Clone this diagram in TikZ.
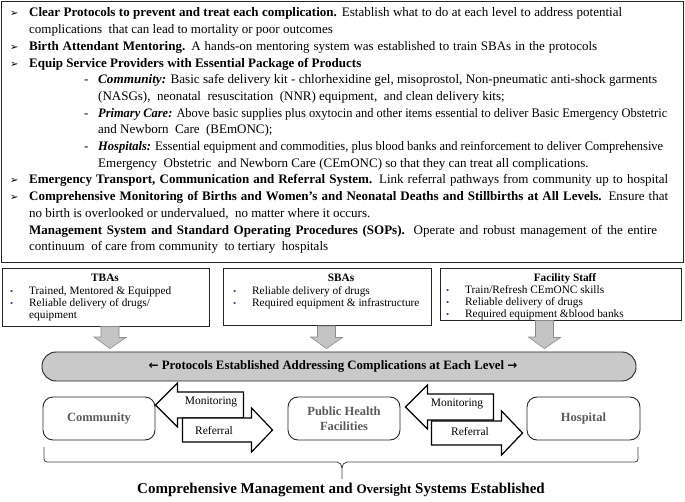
\documentclass[tikz,border=0pt]{standalone}
\usepackage{graphicx}
\usepackage{fontspec}
\setmainfont{Liberation Serif}
\newfontfamily\dejavu{DejaVu Sans}
\definecolor{bulblue}{HTML}{2E4A8C}
\definecolor{bannergray}{HTML}{C9C9C9}
\definecolor{arrgray}{HTML}{C4C4C4}
\definecolor{arredge}{HTML}{8A8A8A}
\definecolor{lbl}{HTML}{5A5A5A}
\newcommand\tbul{\makebox[19pt][l]{\dejavu\fontsize{10}{10}\selectfont ➢}}
\newcommand\tsub{\hspace*{74pt}\makebox[14pt][l]{-}}
\newcommand\sbul{\makebox[19pt][l]{\color{bulblue}\fontsize{9}{9}\selectfont •}}
\newcommand\jl[2]{\hbox to #1pt{\spaceskip=0.25em plus 1em minus 0.08em #2}}
\newcommand\fitw[2]{\resizebox{#1pt}{\height}{#2}}
\tikzset{
  ln/.style={anchor=base west, inner sep=0pt, font=\fontsize{13}{15}\selectfont},
  bx/.style={draw=black!85, line width=0.9pt, inner sep=0pt},
  bl/.style={anchor=base west, inner sep=0pt, font=\fontsize{11.3}{13}\selectfont},
  bh/.style={anchor=base, inner sep=0pt, font=\fontsize{11.3}{13}\selectfont\bfseries},
  garr/.style={fill=arrgray, draw=arredge, line width=0.6pt},
  barr/.style={fill=white, draw=black, line width=1.2pt, line join=miter},
  lvl/.style={draw=black!85, line width=0.9pt, rounded corners=10pt, minimum width=112pt, minimum height=43pt, inner sep=0pt, text=lbl, font=\fontsize{12.5}{15}\selectfont\bfseries, align=center},
  albl/.style={inner sep=0pt, font=\fontsize{11.5}{13}\selectfont}
}
\begin{document}
\begin{tikzpicture}[x=1pt,y=-1pt]
\useasboundingbox (0,0) rectangle (685,502);
% top box
\node[bx, minimum width=682pt, minimum height=261pt, anchor=north west] (top) at (1,1) {};
\node[ln] (t1) at (10,17) {\tbul\jl{593}{\textbf{Clear Protocols to prevent and treat each complication.} Establish what to do at each level to address potential}};
\node[ln] (t2) at (29,33.7) {complications \ that can lead to mortality or poor outcomes};
\node[ln] (t3) at (10,50.4) {\tbul\jl{568}{\textbf{Birth Attendant Mentoring.} A hands-on mentoring system was established to train SBAs in the protocols}};
\node[ln] (t4) at (10,67.1) {\tbul\textbf{Equip Service Providers with Essential Package of Products}};
\node[ln] (t5) at (10,83.8) {\tsub\fitw{559}{\textbf{\textit{Community:}} Basic safe delivery kit - chlorhexidine gel, misoprostol, Non-pneumatic anti-shock garments}};
\node[ln] (t6) at (98,100.5) {(NASGs), \ neonatal \ resuscitation \ (NNR) equipment, \ and clean delivery kits;};
\node[ln] (t7) at (10,117.2) {\tsub\fitw{569}{\textbf{\textit{Primary Care:}} Above basic supplies plus oxytocin and other items essential to deliver Basic Emergency Obstetric}};
\node[ln] (t8) at (98,133.9) {and Newborn \ Care \ (BEmONC);};
\node[ln] (t9) at (10,150.6) {\tsub\fitw{565}{\textbf{\textit{Hospitals:}} Essential equipment and commodities, plus blood banks and reinforcement to deliver Comprehensive}};
\node[ln] (t10) at (98,167.3) {Emergency \ Obstetric \ and Newborn Care (CEmONC) so that they can treat all complications.};
\node[ln] (t11) at (10,184) {\tbul\jl{639}{\textbf{Emergency Transport, Communication and Referral System.} Link referral pathways from community up to hospital}};
\node[ln] (t12) at (10,200.7) {\tbul\jl{639}{\textbf{Comprehensive Monitoring of Births and Women’s and Neonatal Deaths and Stillbirths at All Levels.} Ensure that}};
\node[ln] (t13) at (29,217.4) {no birth is overlooked or undervalued, \ no matter where it occurs.};
\node[ln] (t14) at (29,234.1) {\jl{628}{\textbf{Management System and Standard Operating Procedures (SOPs).} Operate and robust management of the entire}};
\node[ln] (t15) at (29,250.8) {continuum \ of care from community \ to tertiary \ hospitals};
% cadre boxes
\node[bx, minimum width=207pt, minimum height=58pt] (tba) at (105.5,297) {};
\node[bx, minimum width=208pt, minimum height=57pt] (sba) at (327,296.5) {};
\node[bx, minimum width=241pt, minimum height=52pt] (fac) at (560.5,294) {};
\node[bh] (tbah) at (105,282) {TBAs};
\node[bl] (tba1) at (10,294.5) {\sbul Trained, Mentored \& Equipped};
\node[bl] (tba2) at (10,306.5) {\sbul Reliable delivery of drugs/};
\node[bl] (tba3) at (29,319) {equipment};
\node[bh] (sbah) at (341,282) {SBAs};
\node[bl] (sba1) at (233,294.5) {\sbul Reliable delivery of drugs};
\node[bl] (sba2) at (233,306.5) {\sbul Required equipment \& infrastructure};
\node[bh] (fach) at (565,282) {Facility Staff};
\node[bl] (fac1) at (446,294) {\sbul Train/Refresh CEmONC skills};
\node[bl] (fac2) at (446,306) {\sbul Reliable delivery of drugs};
\node[bl] (fac3) at (446,318) {\sbul Required equipment \&blood banks};
% banner
\node[draw=black!85, line width=0.9pt, fill=bannergray, rounded corners=14pt, minimum width=594pt, minimum height=29pt, inner sep=0pt] (ban) at (339,366.5) {};
\node[inner sep=0pt, font=\fontsize{12.8}{14}\selectfont\bfseries] (bant) at (333,366.5) {{\dejavu\bfseries\fontsize{12}{14}\selectfont ←} Protocols Established Addressing Complications at Each Level {\dejavu\bfseries\fontsize{12}{14}\selectfont →}};
% gray arrows
\coordinate (g1) at (110,326.5);
\coordinate (g2) at (326.5,326);
\coordinate (g3) at (544.5,320.5);
\draw[garr] (g1) ++(-9,0) -- ++(18,0) -- ++(0,11) -- ++(7,0) -- ([yshift=3pt]ban.north -| g1) -- ([xshift=-16pt,yshift=14.5pt]ban.north -| g1) -- ([xshift=-9pt,yshift=14.5pt]ban.north -| g1) -- cycle;
\draw[garr] (g2) ++(-9,0) -- ++(18,0) -- ++(0,11.5) -- ++(7,0) -- ([yshift=3pt]ban.north -| g2) -- ([xshift=-16pt,yshift=14.5pt]ban.north -| g2) -- ([xshift=-9pt,yshift=14.5pt]ban.north -| g2) -- cycle;
\draw[garr] (g3) ++(-9,0) -- ++(18,0) -- ++(0,17) -- ++(7,0) -- ([yshift=3pt]ban.north -| g3) -- ([xshift=-16pt,yshift=14.5pt]ban.north -| g3) -- ([xshift=-9pt,yshift=14.5pt]ban.north -| g3) -- cycle;
% level boxes
\node[lvl] (com) at (99,418.5) {Community};
\node[lvl] (phf) at (344,418.5) {Public Health\\Facilities};
\node[lvl, minimum width=113pt] (hos) at (583.5,418.5) {Hospital};
% block arrows
\coordinate (m1) at (com.east |- 0,405);
\draw[barr] (m1) -- ++(22,-22) -- ++(0,9) -- ++(66,0) -- ++(0,26) -- ++(-66,0) -- ++(0,9) -- cycle;
\coordinate (r1) at (phf.west |- 0,430);
\draw[barr] ([xshift=-15pt]r1) -- ++(-21,-22) -- ++(0,10) -- ++(-69,0) -- ++(0,24) -- ++(69,0) -- ++(0,10) -- cycle;
\node[albl] (m1l) at (211,402) {Monitoring};
\node[albl] (r1l) at (214,431) {Referral};
\coordinate (m2) at ([xshift=5pt]phf.east |- 0,407);
\draw[barr] (m2) -- ++(22,-22) -- ++(0,9) -- ++(66,0) -- ++(0,26) -- ++(-66,0) -- ++(0,9) -- cycle;
\coordinate (r2) at (hos.west |- 0,433);
\draw[barr] ([xshift=-4pt]r2) -- ++(-21,-22) -- ++(0,10) -- ++(-70,0) -- ++(0,24) -- ++(70,0) -- ++(0,10) -- cycle;
\node[albl] (m2l) at (457,404) {Monitoring};
\node[albl] (r2l) at (470,432) {Referral};
% brace
\coordinate (bl) at (44,447);
\coordinate (br) at (638,447);
\coordinate (bm) at (342,479);
\draw[black!75, line width=0.8pt] (bl) -- (44,459) to[out=-90,in=180] (47,462) -- (337,462) to[out=0,in=90] (bm |- 0,468) -- (bm);
\draw[black!75, line width=0.8pt] (bm |- 0,468) to[out=90,in=180] (347,462) -- (635,462) to[out=0,in=-90] (638,459) -- (br);
\node[inner sep=0pt, font=\fontsize{15}{18}\selectfont\bfseries] (foot) at (341,490) {Comprehensive Management and {\fontsize{13}{16}\selectfont Oversight} Systems Established};
\end{tikzpicture}
\end{document}
